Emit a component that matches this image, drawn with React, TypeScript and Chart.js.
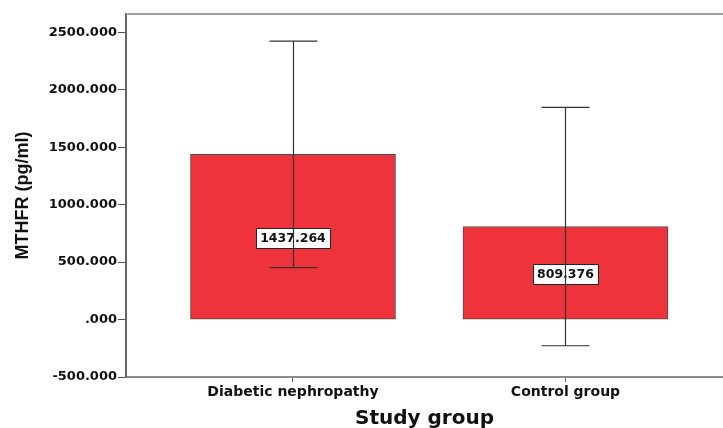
import React, { useEffect, useRef } from "react";
import { Chart, registerables } from "chart.js";

Chart.register(...registerables);

const categories = ["Diabetic nephropathy", "Control group"];
const means = [1437.264, 809.376];
const errLower = [451, -228];
const errUpper = [2423, 1846];
const yTicks = [-500, 0, 500, 1000, 1500, 2000, 2500];
const yTitle = "MTHFR (pg/ml)";
const xTitle = "Study group";

const fmt = (v: number) => {
  const s = v.toFixed(3);
  return s.startsWith("0.") ? s.slice(1) : s;
};

const overlayPlugin = {
  id: "overlay",
  afterDatasetsDraw(chart: any) {
    const { ctx, chartArea } = chart;
    const xs = chart.scales.x;
    const ys = chart.scales.y;
    ctx.save();
    // top border
    ctx.strokeStyle = "#a0a0a0";
    ctx.lineWidth = 2;
    ctx.beginPath();
    ctx.moveTo(chartArea.left, chartArea.top);
    ctx.lineTo(chartArea.right, chartArea.top);
    ctx.stroke();
    // labels
    ctx.font = "bold 12.5px 'DejaVu Sans'";
    ctx.textAlign = "center";
    ctx.textBaseline = "middle";
    means.forEach((m, i) => {
      const x = xs.getPixelForValue(i);
      const y = ys.getPixelForValue(m / 2) + 1;
      const t = fmt(m);
      const w = ctx.measureText(t).width + 8;
      const h = 20;
      ctx.fillStyle = "#ffffff";
      ctx.fillRect(Math.round(x - w / 2) + 0.5, Math.round(y - h / 2) + 0.5, Math.round(w), h);
      ctx.strokeStyle = "#222";
      ctx.lineWidth = 1;
      ctx.strokeRect(Math.round(x - w / 2) + 0.5, Math.round(y - h / 2) + 0.5, Math.round(w), h);
      ctx.fillStyle = "#111";
      ctx.fillText(t, x, y + 1);
    });
    // error bars
    ctx.strokeStyle = "#333";
    ctx.lineWidth = 1.2;
    means.forEach((m, i) => {
      const x = Math.round(xs.getPixelForValue(i)) + 0.5;
      const yt = ys.getPixelForValue(errUpper[i]);
      const yb = ys.getPixelForValue(errLower[i]);
      const cw = 24;
      ctx.beginPath();
      ctx.moveTo(x, yt);
      ctx.lineTo(x, yb);
      ctx.moveTo(x - cw, yt);
      ctx.lineTo(x + cw, yt);
      ctx.moveTo(x - cw, yb);
      ctx.lineTo(x + cw, yb);
      ctx.stroke();
    });
    ctx.restore();
  },
};

export default function App() {
  const ref = useRef<HTMLCanvasElement>(null);
  useEffect(() => {
    if (!ref.current) return;
    const chart = new Chart(ref.current, {
      type: "bar",
      data: {
        datasets: [
          {
            data: categories.map((c, i) => ({ x: i, y: means[i] })),
            backgroundColor: "#ee333b",
            borderColor: "#4a4a4a",
            borderWidth: 1,
            borderSkipped: false,
            barThickness: 205,
          } as any,
        ],
      },
      options: {
        responsive: false,
        animation: false,
        events: [],
        layout: { padding: { left: 0, top: 14, right: 0, bottom: 0 } },
        plugins: { legend: { display: false }, tooltip: { enabled: false } },
        scales: {
          x: {
            type: "linear",
            offset: false,
            min: -0.6128,
            max: 1.578,
            afterBuildTicks: (s: any) => {
              s.ticks = categories.map((c, i) => ({ value: i }));
            },
            afterFit: (s: any) => {
              s.height = 51;
            },
            ticks: {
              autoSkip: false,
              maxRotation: 0,
              padding: 2,
              color: "#111",
              font: { family: "'DejaVu Sans'", size: 14, weight: "bold" },
              callback: (v: any, i: number) => categories[i],
            },
            grid: { offset: false, drawOnChartArea: false, drawTicks: true, tickLength: 5, color: "#666" },
            border: { display: true, color: "#8a8a8a", width: 2 },
            title: {
              display: true,
              text: xTitle,
              color: "#111",
              font: { family: "'DejaVu Sans'", size: 20, weight: "bold" },
              padding: { top: 0, bottom: -3 },
            },
          },
          y: {
            min: -500,
            max: 2659,
            afterBuildTicks: (s: any) => {
              s.ticks = yTicks.map((v) => ({ value: v }));
            },
            afterFit: (s: any) => {
              s.width = 126;
            },
            ticks: {
              padding: 1,
              color: "#111",
              font: { family: "'DejaVu Sans'", size: 13, weight: "bold" },
              callback: (v: any) => fmt(Number(v)),
            },
            grid: { drawOnChartArea: false, drawTicks: true, tickLength: 8, color: "#555" },
            border: { display: true, color: "#666", width: 2 },
            title: {
              display: true,
              text: yTitle,
              color: "#111",
              font: { family: "'Liberation Sans'", size: 18, weight: "bold" },
              padding: { top: 12, bottom: 0 },
            },
          },
        },
      },
      plugins: [overlayPlugin],
    });
    return () => chart.destroy();
  }, []);
  return (
    <div style={{ position: "absolute", left: 0, top: 0, width: 723, height: 428, background: "#fff" }}>
      <canvas ref={ref} width={723} height={428} style={{ display: "block" }} />
    </div>
  );
}
